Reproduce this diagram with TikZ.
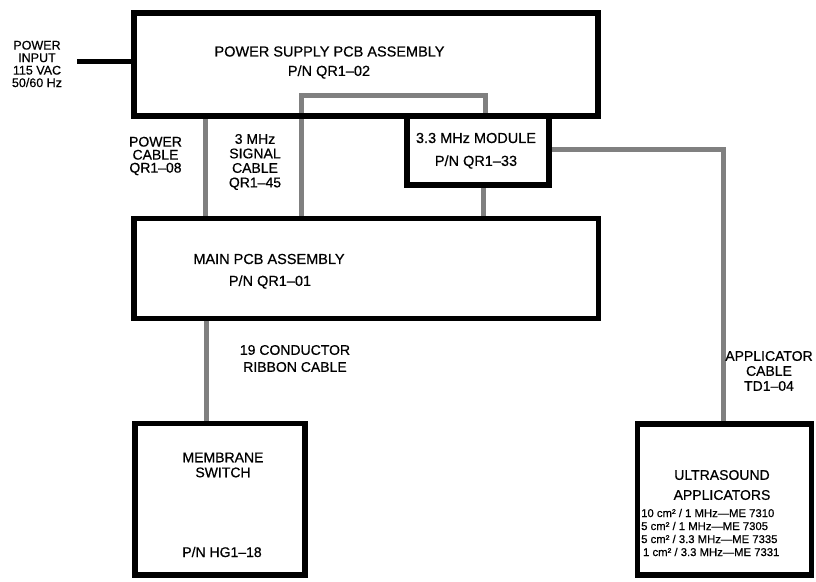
\documentclass[tikz,border=0pt]{standalone}
\usepackage{fontspec}
\setmainfont{Liberation Sans}[FakeBold=0.6]
\usetikzlibrary{backgrounds}
\begin{document}
\begin{tikzpicture}[x=1pt,y=-1pt,
  box/.style={draw=black, line width=5.5pt, inner sep=0pt, outer sep=0pt, rectangle},
  cable/.style={draw=black!50, line width=5pt},
  wire/.style={draw=black, line width=5pt},
  title/.style={inner sep=0pt, align=center, font=\fontsize{14.5}{14}\selectfont},
  lbl/.style={inner sep=0pt, align=center, font=\fontsize{14}{14}\selectfont}
]
\useasboundingbox (0,0) rectangle (816,581);

% boxes
\node[box, minimum width=464pt, minimum height=103pt] (ps) at (366,64.5) {};
\node[box, minimum width=142pt, minimum height=69pt] (mod) at (478,150.5) {};
\node[box, minimum width=464.5pt, minimum height=100pt] (main) at (366.25,268.5) {};
\node[box, minimum width=170pt, minimum height=151.5pt] (memb) at (220,499) {};
\node[box, minimum width=174pt, minimum height=151pt] (app) at (724.5,499.5) {};

% box texts
\node[title] (pst1) at (329.5,51.5) {POWER SUPPLY PCB ASSEMBLY};
\node[title] (pst2) at (329,72) {P/N QR1–02};
\node[title] (modt1) at (476,138) {3.3 MHz MODULE};
\node[title] (modt2) at (476,162) {P/N QR1–33};
\node[title] (maint1) at (269,259) {MAIN PCB ASSEMBLY};
\node[title] (maint2) at (270,282) {P/N QR1–01};
\node[lbl, font=\fontsize{14}{15}\selectfont] (membt1) at (223,465) {MEMBRANE\\SWITCH};
\node[lbl] (membt2) at (222,552) {P/N HG1–18};
\node[lbl, font=\fontsize{14}{20}\selectfont] (appt1) at (722,485) {ULTRASOUND\\APPLICATORS};
\node[inner sep=0pt, anchor=west, align=left, font=\fontsize{11.3}{13}\selectfont] (appt2) at (641,532.5)
  {10 cm² / 1 MHz—ME 7310\\5 cm² / 1 MHz—ME 7305\\5 cm² / 3.3 MHz—ME 7335\\\,1 cm² / 3.3 MHz—ME 7331};

% labels
\node[lbl, font=\fontsize{12.5}{12.5}\selectfont] (pin) at (37,64) {POWER\\INPUT\\115 VAC\\50/60 Hz};
\node[lbl, font=\fontsize{14}{13}\selectfont] (pcl) at (155.5,156) {POWER\\CABLE\\QR1–08};
\node[lbl, font=\fontsize{14}{14.5}\selectfont] (scl) at (255,162) {3 MHz\\SIGNAL\\CABLE\\QR1–45};
\node[lbl, font=\fontsize{14}{17}\selectfont] (rcl) at (295,358.5) {19 CONDUCTOR\\RIBBON CABLE};
\node[lbl, font=\fontsize{14}{15}\selectfont] (acl) at (769,371) {APPLICATOR\\CABLE\\TD1–04};

% helper coordinates
\coordinate (pinend) at (77,61.5);
\coordinate (pcx) at (205,0);
\coordinate (scx) at (301,0);
\coordinate (loopy) at (0,95.5);
\coordinate (lrx) at (485,0);
\coordinate (mmx) at (483.5,0);
\coordinate (acy) at (0,149.5);
\coordinate (acx) at (723.5,0);
\coordinate (rbx) at (206,0);

\begin{scope}[on background layer]
  \draw[wire] (pinend) -- (pinend -| ps.west);
  \draw[cable] (pcx |- ps.south) -- (pcx |- main.north);
  \draw[cable, line join=miter] (scx |- main.north) -- (scx |- loopy) -- (lrx |- loopy) -- (lrx |- mod.north);
  \draw[cable] (mmx |- mod.south) -- (mmx |- main.north);
  \draw[cable, line join=miter] (mod.east |- acy) -- (acx |- acy) -- (acx |- app.north);
  \draw[cable] (rbx |- main.south) -- (rbx |- memb.north);
\end{scope}
\end{tikzpicture}
\end{document}
